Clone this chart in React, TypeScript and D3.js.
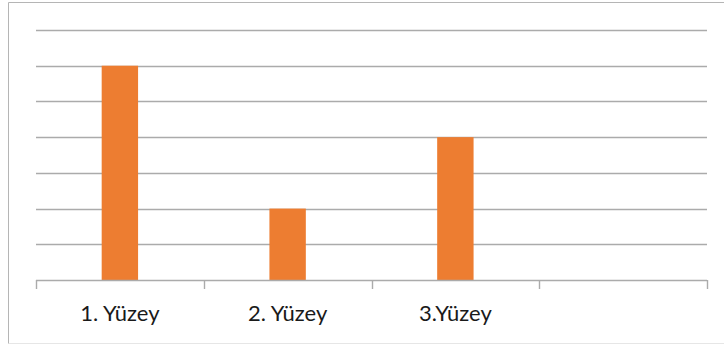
import React from "react";
import * as d3 from "d3";

const categories = ["1. Yüzey", "2. Yüzey", "3.Yüzey", ""];
const values = [6, 2, 4, null];
const yTicks = [0, 1, 2, 3, 4, 5, 6, 7];

const W = 724;
const H = 344;
const plot = { left: 36, right: 707, top: 30, bottom: 280 };

export default function App() {
  const x = d3
    .scaleBand<string>()
    .domain(categories.map((c, i) => String(i)))
    .range([plot.left, plot.right])
    .padding(0);
  const y = d3.scaleLinear().domain([0, 7]).range([plot.bottom, plot.top]);
  const bw = x.bandwidth();
  const barW = bw * 0.217;
  const gridColor = "#ababab";

  return (
    <div style={{ position: "fixed", left: 0, top: 0 }}>
      <svg width={W} height={H} style={{ display: "block" }}>
        <rect x={0} y={0} width={W} height={H} fill="#fff" />
        {/* chart area frame */}
        <path
          d={`M${W + 2},2.5 H8.5 V343.5 H${W + 2}`}
          fill="none"
          stroke="#b5b5b5"
          strokeWidth={1}
        />
        <path d={`M8.5,343.5 H${W}`} stroke="#e6e6e6" strokeWidth={1} />
        {/* horizontal gridlines */}
        {yTicks.slice(1).map((t) => (
          <line
            key={t}
            x1={plot.left}
            x2={plot.right}
            y1={Math.round(y(t)) + 0.5}
            y2={Math.round(y(t)) + 0.5}
            stroke={gridColor}
            strokeWidth={1.4}
          />
        ))}
        {/* bars */}
        {values.map((v, i) =>
          v == null ? null : (
            <rect
              key={i}
              x={(x(String(i)) as number) + bw / 2 - barW / 2}
              y={y(v)}
              width={barW}
              height={y(0) - y(v)}
              fill="#ed7d31"
            />
          )
        )}
        {/* category axis */}
        <line
          x1={plot.left}
          x2={plot.right}
          y1={plot.bottom + 0.5}
          y2={plot.bottom + 0.5}
          stroke={gridColor}
          strokeWidth={1.4}
        />
        {categories.map((c, i) => (
          <line
            key={"t" + i}
            x1={Math.round(x(String(i)) as number) + 0.5}
            x2={Math.round(x(String(i)) as number) + 0.5}
            y1={plot.bottom}
            y2={plot.bottom + 9}
            stroke={gridColor}
            strokeWidth={1.4}
          />
        ))}
        <line
          x1={plot.right + 0.5}
          x2={plot.right + 0.5}
          y1={plot.bottom}
          y2={plot.bottom + 9}
          stroke={gridColor}
          strokeWidth={1.4}
        />
        {categories.map((c, i) => (
          <text
            key={"l" + i}
            x={(x(String(i)) as number) + bw / 2}
            y={321}
            textAnchor="middle"
            fontFamily="Lato, 'Open Sans', sans-serif"
            fontSize={22}
            fill="#1a1a1a"
          >
            {c}
          </text>
        ))}
      </svg>
    </div>
  );
}
